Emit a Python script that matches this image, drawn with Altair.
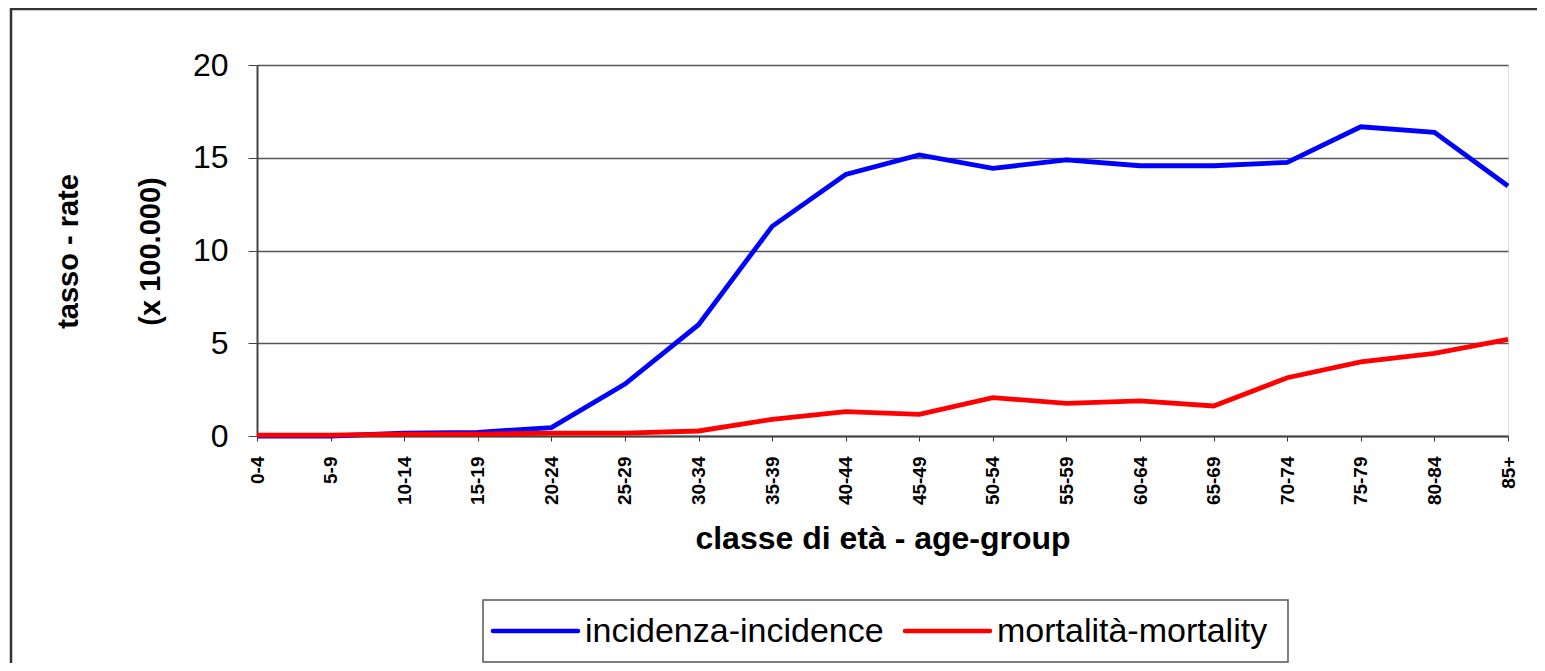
import altair as alt
import pandas as pd

age_groups = ["0-4", "5-9", "10-14", "15-19", "20-24", "25-29", "30-34", "35-39",
              "40-44", "45-49", "50-54", "55-59", "60-64", "65-69", "70-74",
              "75-79", "80-84", "85+"]
incidence = [0.0, 0.0, 0.15, 0.2, 0.45, 2.8, 6.0, 11.3, 14.1, 15.15, 14.43,
             14.88, 14.57, 14.57, 14.75, 16.67, 16.37, 13.48]
mortality = [0.05, 0.05, 0.1, 0.1, 0.15, 0.15, 0.27, 0.9, 1.31, 1.17, 2.07,
             1.76, 1.89, 1.62, 3.14, 4.0, 4.46, 5.21]
series_names = ["incidenza-incidence", "mortalità-mortality"]
series_colors = ["#0000FF", "#FF0000"]
y_ticks = [0, 5, 10, 15, 20]

rows = []
for i, g in enumerate(age_groups):
    rows.append({"age": g, "order": i, "serie": series_names[0], "value": incidence[i]})
    rows.append({"age": g, "order": i, "serie": series_names[1], "value": mortality[i]})
df = pd.DataFrame(rows)

FONT = "Liberation Sans"

lines = alt.Chart(df).mark_line(strokeWidth=4.8, clip=False).encode(
    x=alt.X("age:N", sort=age_groups,
            scale=alt.Scale(type="point", padding=0),
            axis=alt.Axis(title="classe di età - age-group",
                          labelAngle=270, labelFont=FONT, labelFontSize=19,
                          labelFontWeight="bold", labelColor="black",
                          labelPadding=15, tickSize=5, tickColor="#333",
                          domainColor="#444", domainWidth=2,
                          titleFont=FONT, titleFontSize=32, titleFontWeight="bold",
                          titleColor="black", titleY=112, titleBaseline="alphabetic",
                          grid=False)),
    y=alt.Y("value:Q",
            scale=alt.Scale(domain=[0, 20], nice=False, zero=True),
            axis=alt.Axis(values=y_ticks, title=["tasso - rate", "(x 100.000)"],
                          labelFont=FONT, labelFontSize=32, labelColor="black",
                          labelPadding=20, tickSize=9, tickColor="#444",
                          domainColor="#444", domainWidth=2,
                          grid=True, gridColor="#555", gridWidth=1.5,
                          titleFont=FONT, titleFontSize=29, titleFontWeight="bold",
                          titleColor="black", titleAngle=270, titleX=-203,
                          titleY=186, titleAlign="center", titleBaseline="top",
                          titleLineHeight=82)),
    color=alt.Color("serie:N",
                    scale=alt.Scale(domain=series_names, range=series_colors),
                    legend=None),
    order="order:Q",
)

one = pd.DataFrame({"a": [0]})

border = alt.Chart(one).mark_rect(
    fill=None, stroke="#333", strokeWidth=2.5, clip=False
).encode(
    x=alt.value(-246), x2=alt.value(1320),
    y=alt.value(-56), y2=alt.value(640),
)

legend_box = alt.Chart(one).mark_rect(
    fill="white", stroke="#555", strokeWidth=1.5, clip=False
).encode(
    x=alt.value(226), x2=alt.value(1031),
    y=alt.value(535), y2=alt.value(597),
)

legend_layers = [legend_box]
sym_x = [236, 648]
for k in range(2):
    legend_layers.append(
        alt.Chart(one).mark_rule(color=series_colors[k], strokeWidth=4.5,
                                 strokeCap="round", clip=False).encode(
            x=alt.value(sym_x[k]), x2=alt.value(sym_x[k] + 85),
            y=alt.value(566)))
    legend_layers.append(
        alt.Chart(one).mark_text(text=series_names[k], font=FONT, fontSize=34,
                                 color="black", align="left", baseline="middle",
                                 clip=False).encode(
            x=alt.value(sym_x[k] + 92), y=alt.value(567)))

chart = alt.layer(border, lines, *legend_layers).properties(
    width=1251, height=371,
    autosize=alt.AutoSizeParams(type="none"),
    padding={"left": 249, "top": 57, "right": 29, "bottom": 227},
).configure_view(stroke="#888", strokeWidth=2).configure(background="white")

chart.save("out.html", embed_options={"renderer": "svg", "actions": False})
